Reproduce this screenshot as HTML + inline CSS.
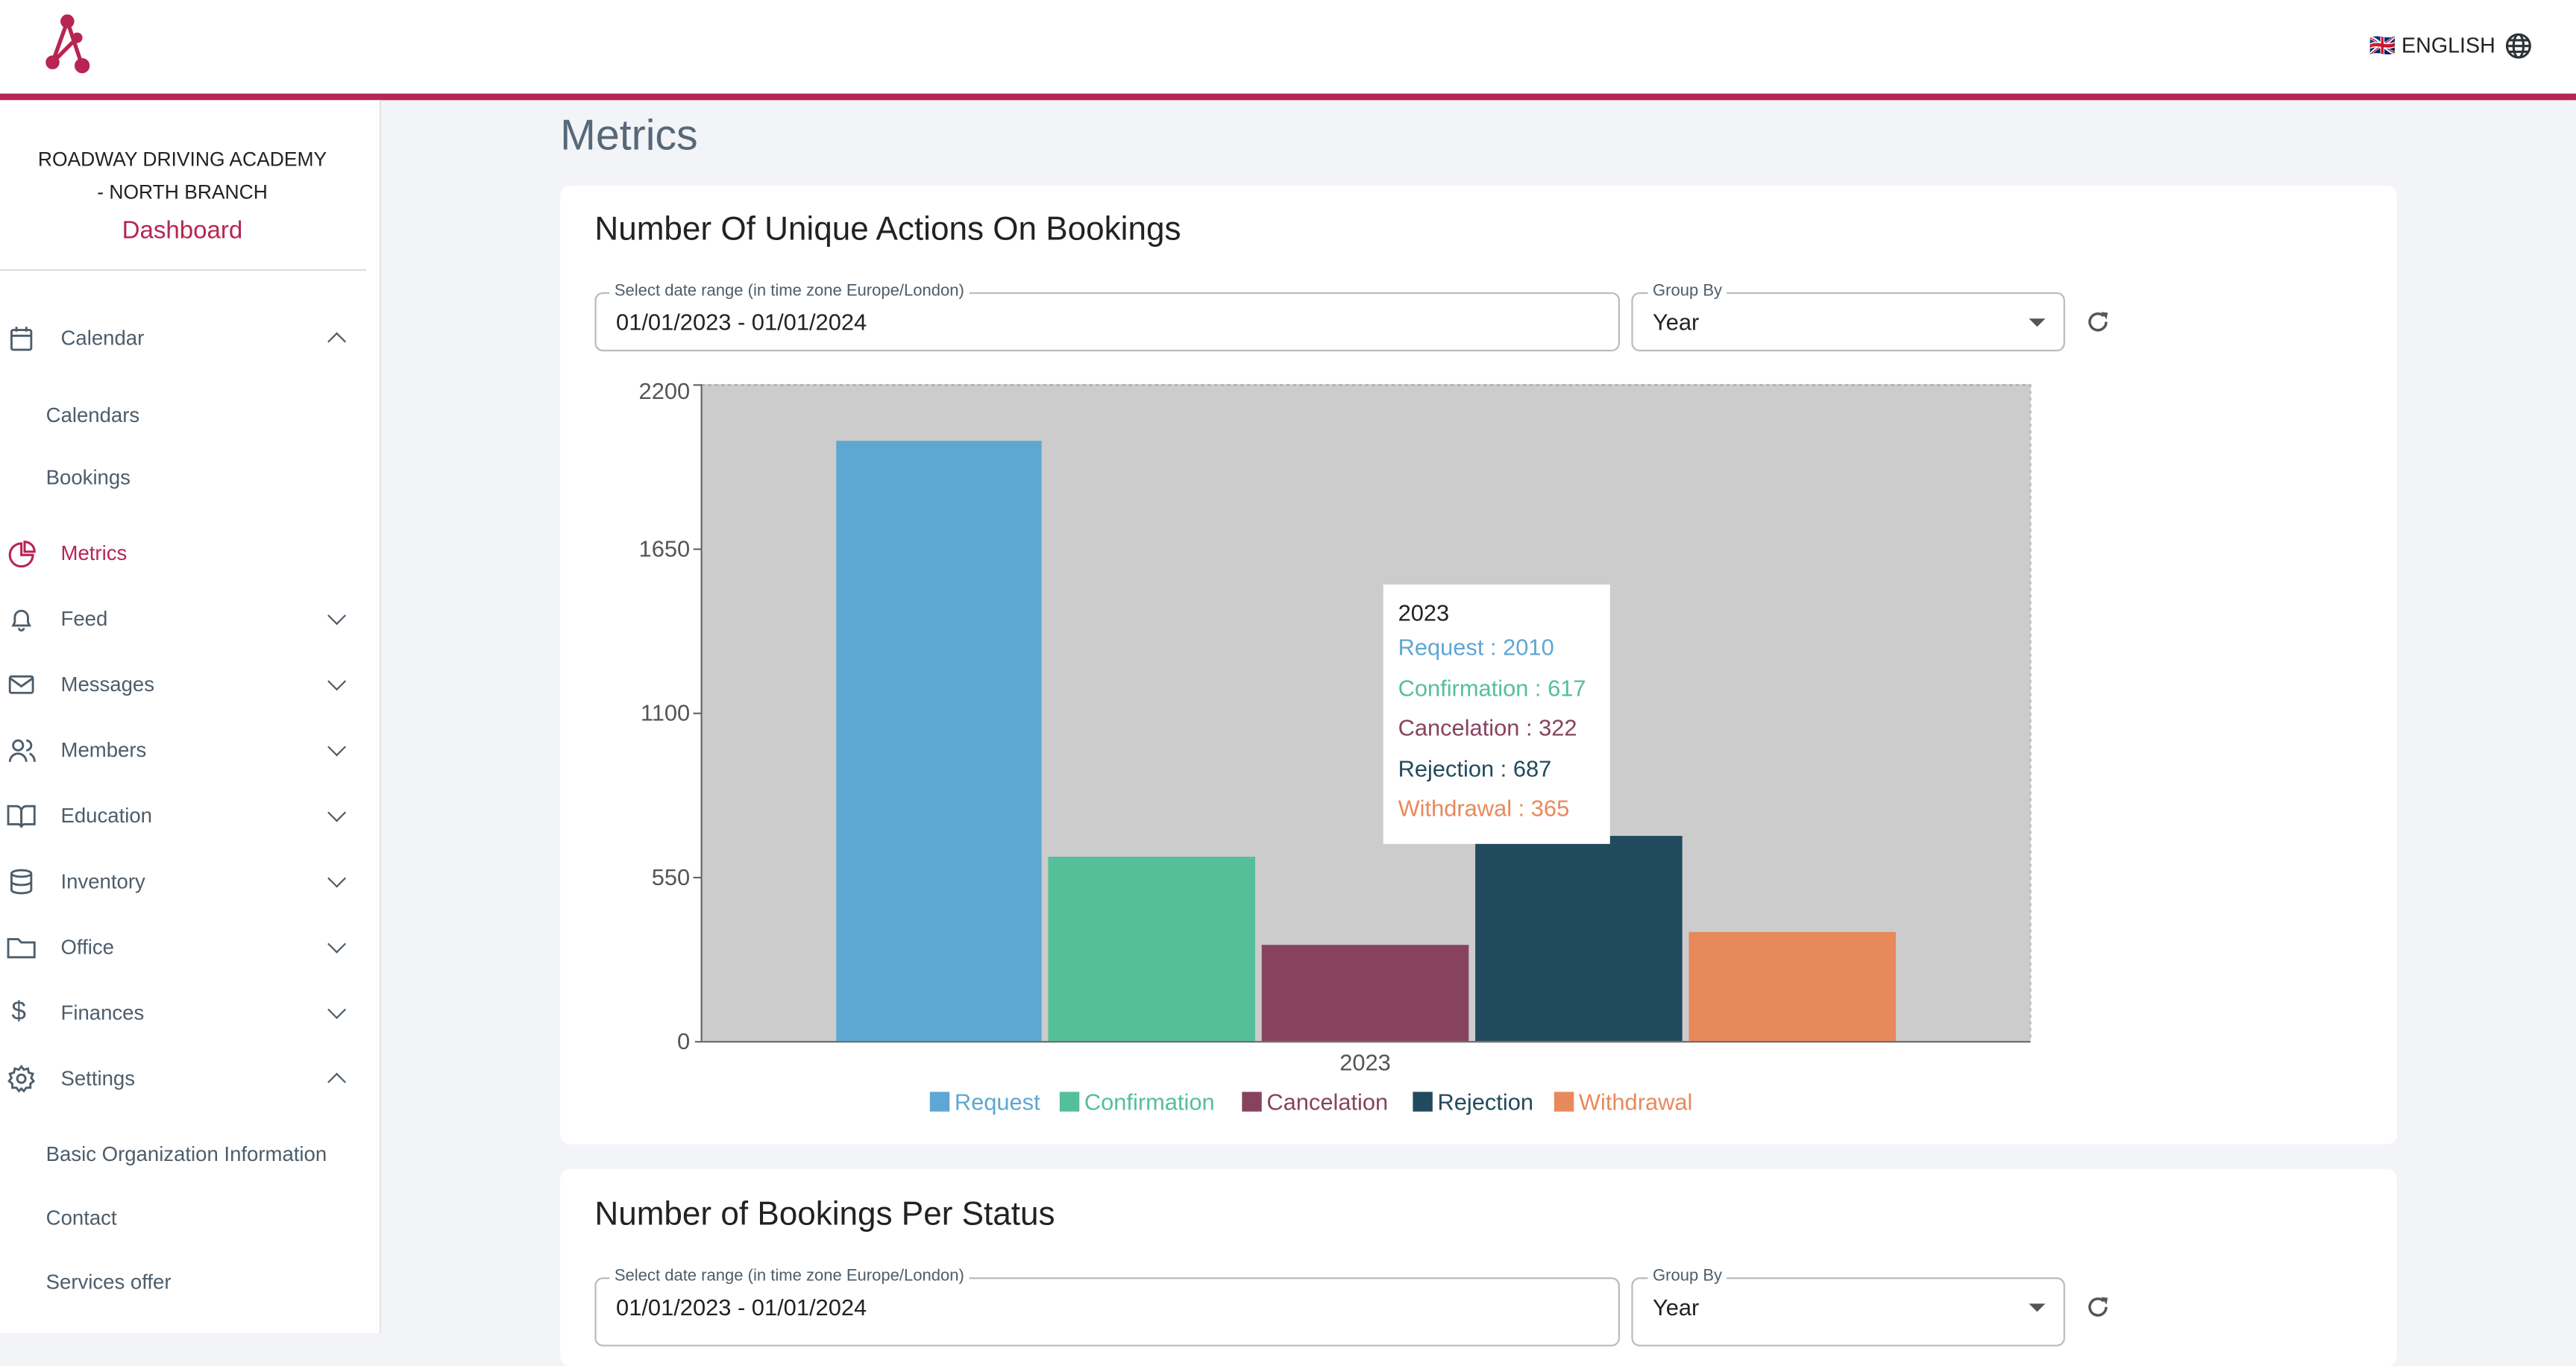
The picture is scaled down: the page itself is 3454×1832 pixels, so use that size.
<!DOCTYPE html>
<html><head><meta charset="utf-8"><style>
html,body{margin:0;padding:0;width:3454px;height:1788px;overflow:hidden;background:#f3f4f7}
#w{position:absolute;left:0;top:0;width:1568px;height:812px;transform:scale(2.2028,2.2020);transform-origin:0 0;font-family:"Liberation Sans",sans-serif;background:#f3f4f7}
.a{position:absolute;white-space:nowrap}
.t{position:absolute;white-space:nowrap;height:20px;line-height:20px}
.side{color:#4d5d6b;font-size:12.5px}
.chev{position:absolute;width:7px;height:7px;border-right:1.6px solid #4d5d6b;border-bottom:1.6px solid #4d5d6b}
.down{transform:rotate(45deg)}
.up{transform:rotate(-135deg)}
</style></head><body><div id="w">
<!-- header -->
<div class="a" style="left:0;top:0;width:1568px;height:57px;background:#fff"></div>
<div class="a" style="left:0;top:57px;width:1568px;height:4px;background:#b82552"></div>
<svg class="a" style="left:26px;top:8px" width="36" height="38" viewBox="0 0 36 38">
<g stroke="#b82552" stroke-width="2.4" fill="#b82552"><line x1="15" y1="5" x2="6" y2="30"/><line x1="15" y1="5" x2="24" y2="32"/><line x1="6" y1="30" x2="21" y2="15"/>
<circle cx="15" cy="5" r="3" /><circle cx="6" cy="30" r="3"/><circle cx="24" cy="32" r="3.4"/><circle cx="21" cy="15" r="2"/></g></svg>
<div class="t" style="left:1442px;top:18px;font-size:13px;color:#222">🇬🇧 ENGLISH</div>
<svg class="a" style="left:1525px;top:20px" width="16" height="16" viewBox="0 0 16 16"><g fill="none" stroke="#2b3338" stroke-width="1.4"><circle cx="8" cy="8" r="7"/><ellipse cx="8" cy="8" rx="3" ry="7"/><line x1="1" y1="8" x2="15" y2="8"/><line x1="2" y1="4.5" x2="14" y2="4.5"/><line x1="2" y1="11.5" x2="14" y2="11.5"/></g></svg>
<!-- sidebar -->
<div class="a" style="left:0;top:61px;width:231px;height:751px;background:#fff;border-right:1px solid #e2e4e8"></div>
<div class="t" style="left:0;width:222px;text-align:center;top:87px;font-size:12px;color:#222">ROADWAY DRIVING ACADEMY</div>
<div class="t" style="left:0;width:222px;text-align:center;top:107px;font-size:12px;color:#222">- NORTH BRANCH</div>
<div class="t" style="left:0;width:222px;text-align:center;top:131px;font-size:15px;color:#b82552">Dashboard</div>
<div class="a" style="left:0;top:164px;width:223px;height:1px;background:#ddd"></div>
<svg class="a" style="left:5px;top:198px" width="16" height="16" viewBox="0 0 16 16"><g fill="none" stroke="#4d5d6b" stroke-width="1.3"><rect x="2" y="3" width="12" height="12" rx="1"/><line x1="2" y1="6.5" x2="14" y2="6.5"/><line x1="5" y1="1" x2="5" y2="4"/><line x1="11" y1="1" x2="11" y2="4"/></g></svg>
<div class="t side" style="left:37px;top:196px">Calendar</div><div class="chev up" style="left:201px;top:204px"></div>
<div class="t side" style="left:28px;top:243px">Calendars</div>
<div class="t side" style="left:28px;top:281px">Bookings</div>
<svg class="a" style="left:5px;top:329px" width="17" height="17" viewBox="0 0 17 17"><g fill="none" stroke="#b82552" stroke-width="1.4"><path d="M8 2 A7 7 0 1 0 15 9 L8 9 Z"/><path d="M10 1 A6 6 0 0 1 16 7 L10 7 Z"/></g></svg>
<div class="t" style="left:37px;top:327px;font-size:12.5px;color:#b82552">Metrics</div>
<div class="t side" style="left:37px;top:367px">Feed</div><div class="chev down" style="left:201px;top:371px"></div>
<div class="t side" style="left:37px;top:407px">Messages</div><div class="chev down" style="left:201px;top:411px"></div>
<div class="t side" style="left:37px;top:447px">Members</div><div class="chev down" style="left:201px;top:451px"></div>
<div class="t side" style="left:37px;top:487px">Education</div><div class="chev down" style="left:201px;top:491px"></div>
<div class="t side" style="left:37px;top:527px">Inventory</div><div class="chev down" style="left:201px;top:531px"></div>
<div class="t side" style="left:37px;top:567px">Office</div><div class="chev down" style="left:201px;top:571px"></div>
<div class="t side" style="left:37px;top:607px">Finances</div><div class="chev down" style="left:201px;top:611px"></div>
<div class="t side" style="left:37px;top:647px">Settings</div><div class="chev up" style="left:201px;top:655px"></div>
<svg class="a" style="left:5px;top:369px" width="16" height="16" viewBox="0 0 16 16"><path d="M3 12 L4 10 V7 A4 4 0 0 1 12 7 V10 L13 12 Z M6.5 13.5 A1.5 1.5 0 0 0 9.5 13.5" fill="none" stroke="#4d5d6b" stroke-width="1.3"/></svg>
<svg class="a" style="left:5px;top:409px" width="16" height="16" viewBox="0 0 16 16"><g fill="none" stroke="#4d5d6b" stroke-width="1.3"><rect x="1" y="3" width="14" height="10" rx="1"/><path d="M1 4 L8 9 L15 4"/></g></svg>
<svg class="a" style="left:5px;top:449px" width="17" height="16" viewBox="0 0 17 16"><g fill="none" stroke="#4d5d6b" stroke-width="1.3"><circle cx="6" cy="5" r="3"/><path d="M1 15 A5 5 0 0 1 11 15"/><path d="M11 2 A3 3 0 0 1 11 8 M13 10 A5 5 0 0 1 16 15"/></g></svg>
<svg class="a" style="left:4px;top:489px" width="18" height="16" viewBox="0 0 18 16"><g fill="none" stroke="#4d5d6b" stroke-width="1.3"><path d="M1 2 H6 A3 3 0 0 1 9 5 V15 A2 2 0 0 0 7 13 H1 Z"/><path d="M17 2 H12 A3 3 0 0 0 9 5 V15 A2 2 0 0 1 11 13 H17 Z"/></g></svg>
<svg class="a" style="left:5px;top:529px" width="16" height="16" viewBox="0 0 16 16"><g fill="none" stroke="#4d5d6b" stroke-width="1.3"><ellipse cx="8" cy="3" rx="6" ry="2"/><path d="M2 3 V13 A6 2 0 0 0 14 13 V3 M2 8 A6 2 0 0 0 14 8"/></g></svg>
<svg class="a" style="left:4px;top:569px" width="18" height="16" viewBox="0 0 18 16"><path d="M1 3 H7 L9 5 H17 V14 H1 Z" fill="none" stroke="#4d5d6b" stroke-width="1.3"/></svg>
<div class="t" style="left:7px;top:607px;font-size:16px;color:#4d5d6b">$</div>
<svg class="a" style="left:4px;top:648px" width="18" height="18" viewBox="0 0 18 18"><g fill="none" stroke="#4d5d6b" stroke-width="1.3"><circle cx="9" cy="9" r="2.5"/><path d="M9 1.5 L10.5 3.5 L13 2.8 L13.5 5.3 L16 6 L15 8.5 L16.5 10.5 L14.5 12 L14.5 14.5 L12 14.5 L10.5 16.5 L9 15 L7.5 16.5 L6 14.5 L3.5 14.5 L3.5 12 L1.5 10.5 L3 8.5 L2 6 L4.5 5.3 L5 2.8 L7.5 3.5 Z"/></g></svg>
<div class="t side" style="left:28px;top:693px">Basic Organization Information</div>
<div class="t side" style="left:28px;top:732px">Contact</div>
<div class="t side" style="left:28px;top:771px">Services offer</div>
<!-- main -->
<div class="t" style="left:341px;top:67px;font-size:26px;height:30px;line-height:30px;color:#56687a">Metrics</div>
<div class="a" style="left:341px;top:113px;width:1118px;height:584px;background:#fff;border-radius:6px"></div>
<div class="t" style="left:362px;top:128px;font-size:20px;height:24px;line-height:24px;color:#222">Number Of Unique Actions On Bookings</div>
<div class="a" style="left:362px;top:178px;width:622px;height:34px;border:1px solid #bbb;border-radius:5px"></div>
<div class="t" style="left:371px;top:171px;font-size:10px;height:14px;line-height:14px;color:#4d5d6b;background:#fff;padding:0 3px">Select date range (in time zone Europe/London)</div>
<div class="t" style="left:375px;top:186px;font-size:14px;color:#222">01/01/2023 - 01/01/2024</div>
<div class="a" style="left:993px;top:178px;width:262px;height:34px;border:1px solid #bbb;border-radius:5px"></div>
<div class="t" style="left:1003px;top:171px;font-size:10px;height:14px;line-height:14px;color:#4d5d6b;background:#fff;padding:0 3px">Group By</div>
<div class="t" style="left:1006px;top:186px;font-size:14px;color:#222">Year</div>
<div class="a" style="left:1235px;top:194px;width:0;height:0;border-left:5px solid transparent;border-right:5px solid transparent;border-top:5px solid #555"></div>
<svg class="a" style="left:1269px;top:188px" width="16" height="16" viewBox="0 0 16 16"><path d="M13 8 A5 5 0 1 1 11.5 4.5" fill="none" stroke="#555" stroke-width="1.6"/><path d="M10 2 L14 2.5 L13.2 6.5 Z" fill="#555"/></svg>
<!-- chart -->
<svg class="a" style="left:370px;top:225px" width="900" height="470" viewBox="370 225 900 470">
<rect x="427" y="234" width="809" height="400" fill="#cccccc"/>
<line x1="427" y1="234.5" x2="1236" y2="234.5" stroke="#aaa" stroke-dasharray="2,2"/>
<line x1="1236" y1="234" x2="1236" y2="634" stroke="#bbb" stroke-dasharray="2,2"/>
<rect x="509" y="268.5" width="125" height="365.5" fill="#5ea7d3"/>
<rect x="638" y="521.8" width="126" height="112.2" fill="#55bf99"/>
<rect x="768" y="575.5" width="126" height="58.5" fill="#87435e"/>
<rect x="898" y="509.1" width="126" height="124.9" fill="#224a5e"/>
<rect x="1028" y="567.6" width="126" height="66.4" fill="#e8895c"/>
<line x1="427" y1="234" x2="427" y2="634" stroke="#666"/>
<line x1="423" y1="634.5" x2="1236" y2="634.5" stroke="#666"/>
<g stroke="#666"><line x1="422" y1="234.5" x2="427" y2="234.5"/><line x1="422" y1="334.5" x2="427" y2="334.5"/><line x1="422" y1="434.5" x2="427" y2="434.5"/><line x1="422" y1="534.5" x2="427" y2="534.5"/></g>
<g font-family="Liberation Sans, sans-serif" font-size="14" fill="#555" text-anchor="end"><text x="420" y="243">2200</text><text x="420" y="339">1650</text><text x="420" y="439">1100</text><text x="420" y="539">550</text><text x="420" y="639">0</text></g>
<text x="831" y="652" font-family="Liberation Sans, sans-serif" font-size="14" fill="#555" text-anchor="middle">2023</text>
<g font-family="Liberation Sans, sans-serif" font-size="14">
<rect x="566" y="665" width="12" height="12" fill="#5ea7d3"/><text x="581" y="676" fill="#5ea7d3">Request</text>
<rect x="645" y="665" width="12" height="12" fill="#55bf99"/><text x="660" y="676" fill="#55bf99">Confirmation</text>
<rect x="756" y="665" width="12" height="12" fill="#87435e"/><text x="771" y="676" fill="#87435e">Cancelation</text>
<rect x="860" y="665" width="12" height="12" fill="#224a5e"/><text x="875" y="676" fill="#224a5e">Rejection</text>
<rect x="946" y="665" width="12" height="12" fill="#e8895c"/><text x="961" y="676" fill="#e8895c">Withdrawal</text>
</g>
<rect x="842" y="356" width="138" height="158" fill="#fff"/>
<g font-family="Liberation Sans, sans-serif" font-size="14"><text x="851" y="378" fill="#222">2023</text><text x="851" y="399" fill="#5ea7d3">Request : 2010</text><text x="851" y="424" fill="#55bf99">Confirmation : 617</text><text x="851" y="448" fill="#87435e">Cancelation : 322</text><text x="851" y="473" fill="#224a5e">Rejection : 687</text><text x="851" y="497" fill="#e8895c">Withdrawal : 365</text></g>
</svg>
<!-- card 2 -->
<div class="a" style="left:341px;top:712px;width:1118px;height:120px;background:#fff;border-radius:6px"></div>
<div class="t" style="left:362px;top:728px;font-size:20px;height:24px;line-height:24px;color:#222">Number of Bookings Per Status</div>
<div class="a" style="left:362px;top:778px;width:622px;height:40px;border:1px solid #bbb;border-radius:5px"></div>
<div class="t" style="left:371px;top:771px;font-size:10px;height:14px;line-height:14px;color:#4d5d6b;background:#fff;padding:0 3px">Select date range (in time zone Europe/London)</div>
<div class="t" style="left:375px;top:786px;font-size:14px;color:#222">01/01/2023 - 01/01/2024</div>
<div class="a" style="left:993px;top:778px;width:262px;height:40px;border:1px solid #bbb;border-radius:5px"></div>
<div class="t" style="left:1003px;top:771px;font-size:10px;height:14px;line-height:14px;color:#4d5d6b;background:#fff;padding:0 3px">Group By</div>
<div class="t" style="left:1006px;top:786px;font-size:14px;color:#222">Year</div>
<div class="a" style="left:1235px;top:794px;width:0;height:0;border-left:5px solid transparent;border-right:5px solid transparent;border-top:5px solid #555"></div>
<svg class="a" style="left:1269px;top:788px" width="16" height="16" viewBox="0 0 16 16"><path d="M13 8 A5 5 0 1 1 11.5 4.5" fill="none" stroke="#555" stroke-width="1.6"/><path d="M10 2 L14 2.5 L13.2 6.5 Z" fill="#555"/></svg>
</div></body></html>
